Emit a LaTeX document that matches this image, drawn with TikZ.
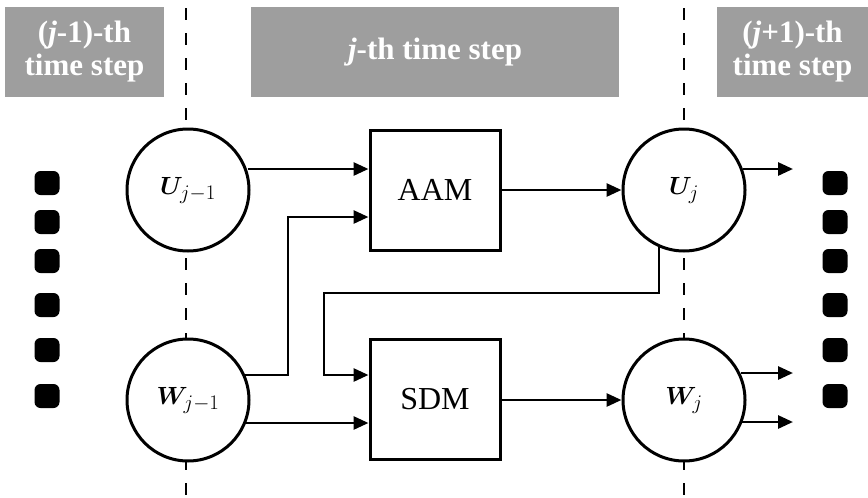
\documentclass[tikz,border=0pt]{standalone}
\usepackage{fontspec}
\usepackage{amsmath,bm}
\setmainfont{Liberation Serif}
\usetikzlibrary{arrows.meta}
\definecolor{boxgray}{RGB}{158,158,158}
\tikzset{
  hdr/.style={fill=boxgray, draw=none, text=white, font=\fontsize{31}{33}\selectfont\bfseries, align=center, inner sep=0pt},
  var/.style={circle, draw, line width=3pt, fill=white, minimum size=122pt, inner sep=0pt, font=\fontsize{31}{34}\selectfont},
  mod/.style={rectangle, draw, line width=3pt, fill=white, minimum width=130pt, minimum height=120pt, inner sep=0pt, font=\fontsize{32}{34}\selectfont},
  conn/.style={line width=2.8pt, -{Triangle[length=15pt,width=13pt]}},
  sep/.style={line width=2.6pt, dash pattern=on 12pt off 13pt},
  dotbox/.style={rectangle, rounded corners=6pt, fill=black, minimum width=25pt, minimum height=24pt, inner sep=0pt}
}
\begin{document}
\begin{tikzpicture}[x=1pt,y=-1pt]
\useasboundingbox (0,0) rectangle (868,498);
% header boxes
\node[hdr, minimum width=159pt, minimum height=90pt] (h1) at (84.5,52) {(\textit{j}-1)-th\\time step};
\node[hdr, minimum width=368pt, minimum height=90pt] (h2) at (435,52) {\textit{j}-th time step};
\node[hdr, minimum width=151pt, minimum height=90pt] (h3) at (792.5,52) {(\textit{j}+1)-th\\time step};
% dashed separators
\coordinate (s1t) at (186,8); \coordinate (s1b) at (186,498);
\coordinate (s2t) at (684,8); \coordinate (s2b) at (684,498);
\draw[sep] (s1t) -- (s1b);
\draw[sep] (s2t) -- (s2b);
% nodes
\node[var] (U0) at (188,190) {$\bm{U}_{j-1}$};
\node[var] (W0) at (188,400) {$\bm{W}_{j-1}$};
\node[var] (U1) at (684,190) {$\bm{U}_{j}$};
\node[var] (W1) at (684,400) {$\bm{W}_{j}$};
\node[mod] (AAM) at (435,190) {AAM};
\node[mod] (SDM) at (435,399) {SDM};
% connectors
\draw[conn] (U0.east |- 0,169) ++(-3,0) -- (AAM.west |- 0,169);
\draw[conn] (W0.east |- 0,375) ++(-6,0) -- (288,375) -- (288,217) -- (AAM.west |- 0,217);
\draw[conn] (AAM.east) -- (U1.west);
\draw[conn] (659,247) -- (659,293) -- (324,293) -- (324,375) -- (SDM.west |- 0,375);
\draw[conn] (W0.east |- 0,423) ++(-6,0) -- (SDM.west |- 0,423);
\draw[conn] (SDM.east |- 0,400) -- (W1.west);
\coordinate (o1) at (793,169);
\coordinate (o2) at (793,373);
\coordinate (o3) at (793,422);
\draw[conn] (U1.east |- 0,169) ++(-4,0) -- (o1);
\draw[conn] (W1.east |- 0,373) ++(-6,0) -- (o2);
\draw[conn] (W1.east |- 0,422) ++(-6,0) -- (o3);
% dots
\foreach \y [count=\i] in {183,222,261,305,350,396} {
  \node[dotbox] (dl\i) at (47,\y) {};
  \node[dotbox] (dr\i) at (835,\y) {};
}
\end{tikzpicture}
\end{document}
